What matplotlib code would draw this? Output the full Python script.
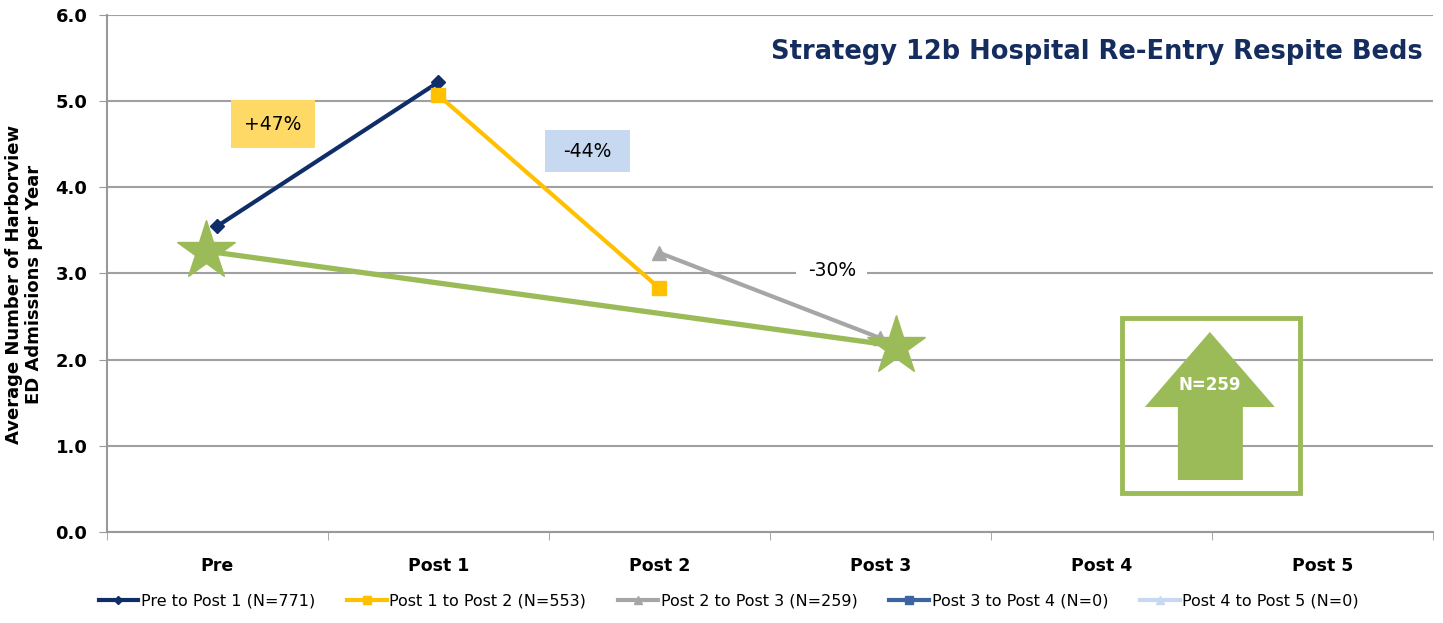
import matplotlib
matplotlib.use('Agg')
import matplotlib.pyplot as plt
from matplotlib.patches import Rectangle, Polygon
import numpy as np

categories = ['Pre', 'Post 1', 'Post 2', 'Post 3', 'Post 4', 'Post 5']
series_names = ['Pre to Post 1 (N=771)', 'Post 1 to Post 2 (N=553)', 'Post 2 to Post 3 (N=259)',
                'Post 3 to Post 4 (N=0)', 'Post 4 to Post 5 (N=0)']
pre_post1 = [3.55, 5.22]
post1_post2 = [5.07, 2.83]
post2_post3 = [3.24, 2.25]
overall = [3.26, 2.16]          # star line, Pre -> Post 3
change_labels = ['+47%', '-44%', '-30%']
n_label = 'N=259'

navy = '#0F2D69'
gold = '#FFC000'
grey = '#A6A6A6'
green = '#9BBB59'

fig = plt.figure(figsize=(14.43, 6.23), dpi=100)
ax = fig.add_axes([0.074, 0.146, 0.919, 0.830])

ax.plot([0, 1], pre_post1, color=navy, lw=3, marker='D', ms=7, label=series_names[0], zorder=4)
ax.plot([1, 2], post1_post2, color=gold, lw=3, marker='s', ms=10, label=series_names[1], zorder=4)
ax.plot([2, 3], post2_post3, color=grey, lw=3, marker='^', ms=10, label=series_names[2], zorder=4)
ax.plot([], [], color='#3C64A0', lw=3, marker='s', ms=9, label=series_names[3])
ax.plot([], [], color='#C6D9F1', lw=3, marker='^', ms=9, label=series_names[4])
ax.plot([-0.05, 3.07], overall, color=green, lw=3.8, marker='*', ms=44, zorder=5)

ax.set_xlim(-0.5, 5.5)
ax.set_ylim(0, 6)
ax.set_yticks(np.arange(0, 6.1, 1.0))
ax.set_yticklabels(['%.1f' % v for v in np.arange(0, 6.1, 1.0)], fontsize=13, fontweight='bold')
ax.set_xticks(range(len(categories)))
ax.set_xticklabels(categories, fontsize=12.5, fontweight='bold')
ax.set_xticks(np.arange(-0.5, 5.6, 1), minor=True)
ax.tick_params(axis='x', which='major', length=0, pad=18)
ax.tick_params(axis='x', which='minor', length=6, color='#999999')
ax.tick_params(axis='y', length=6, color='#999999', pad=8)
ax.grid(axis='y', color='#A0A0A0', lw=1.5)
ax.set_axisbelow(True)
for s in ['top', 'right']:
    ax.spines[s].set_visible(False)
for s in ['left', 'bottom']:
    ax.spines[s].set_color('#999999')
    ax.spines[s].set_linewidth(1.5)

ax.set_ylabel('Average Number of Harborview\nED Admissions per Year', fontsize=13,
              fontweight='bold', linespacing=1.1)
ax.yaxis.label.set_va('center')
ax.yaxis.set_label_coords(-0.0625, 0.478)

ax.text(0.992, 0.928, 'Strategy 12b Hospital Re-Entry Respite Beds', transform=ax.transAxes,
        ha='right', va='center', fontsize=18.5, fontweight='bold', color='#152C5E')

# change labels with coloured boxes
ax.add_patch(Rectangle((0.061, 4.456), 0.38, 0.557, fc='#FFD966', ec='none', zorder=6))
ax.text(0.251, 4.73, change_labels[0], fontsize=13.5, ha='center', va='center', zorder=7)
ax.add_patch(Rectangle((1.482, 4.178), 0.385, 0.487, fc='#C6D9F1', ec='none', zorder=6))
ax.text(1.675, 4.42, change_labels[1], fontsize=13.5, ha='center', va='center', zorder=7)
ax.text(2.78, 3.04, change_labels[2], fontsize=13.5, ha='center', va='center',
        bbox=dict(boxstyle='square,pad=0.6', fc='white', ec='none'), zorder=3)

# N box with arrow
box = Rectangle((0.7655, 0.0754), 0.134, 0.338, transform=ax.transAxes, fill=False,
                ec=green, lw=3.5, zorder=6)
ax.add_patch(box)
arrow = Polygon([(0.7828, 0.2418), (0.8318, 0.387), (0.8808, 0.2418), (0.8567, 0.2418),
                 (0.8567, 0.1006), (0.8077, 0.1006), (0.8077, 0.2418)],
                closed=True, transform=ax.transAxes, fc=green, ec='none', zorder=6)
ax.add_patch(arrow)
ax.text(0.8318, 0.284, n_label, transform=ax.transAxes, ha='center', va='center',
        color='white', fontsize=12, fontweight='bold', zorder=7)

fig.legend(loc='lower center', bbox_to_anchor=(0.505, 0.0), ncol=5, frameon=False,
           fontsize=11.5, handlelength=2.5, columnspacing=2.0, handletextpad=0.15,
           markerscale=0.6)

fig.savefig('out.png', dpi=100)
